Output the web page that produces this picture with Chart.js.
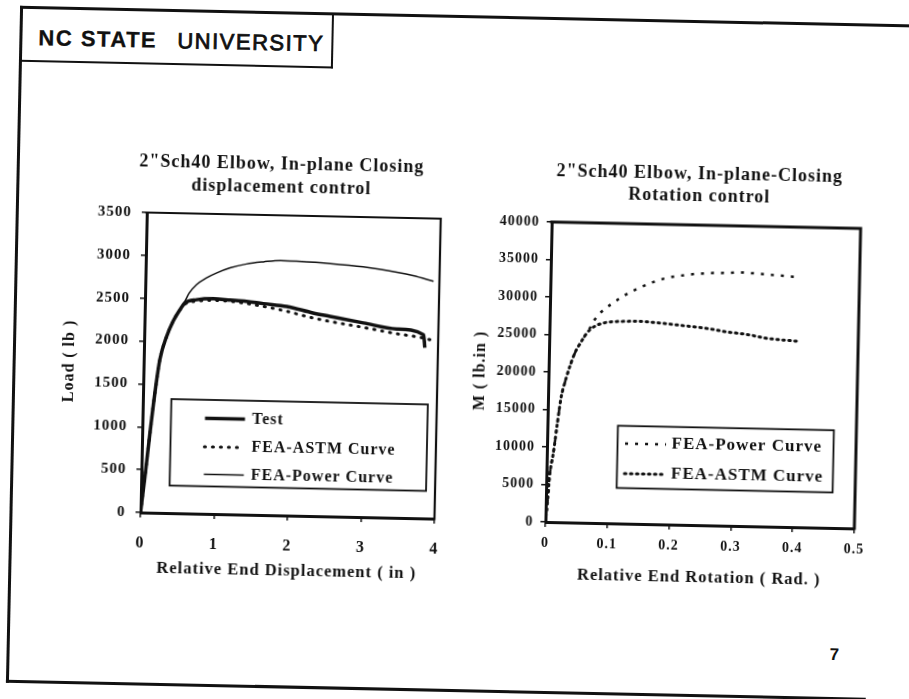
<!DOCTYPE html>
<html>
<head>
<meta charset="utf-8">
<script src="https://cdn.jsdelivr.net/npm/chart.js@4.4.1/dist/chart.umd.min.js"></script>
<style>
  html, body { margin: 0; padding: 0; background: #fff; overflow: hidden; width: 909px; height: 699px; }
  #slide { position: absolute; left: 0; top: 0; width: 909px; height: 699px;
           transform: rotate(1.2deg); transform-origin: 454.5px 349.5px; }
  .rule { position: absolute; background: #111; }
  #header { position: absolute; left: 14px; top: 16px; width: 293px; height: 53px; padding-left: 18px;
            border-right: 2px solid #111; border-bottom: 2px solid #111;
            font-family: "Liberation Sans", Arial, sans-serif; font-size: 22px; line-height: 61px;
            letter-spacing: 1.5px; color: #111; white-space: pre; }
  #header b { font-weight: 700; -webkit-text-stroke: 0.3px #111; }
  #header span { font-weight: 400; margin-left: 5px; -webkit-text-stroke: 0.8px #111; }
  #page { position: absolute; left: 836px; top: 637px; font: bold 17px "Liberation Sans", Arial, sans-serif; color: #111; }
  canvas { position: absolute; }
</style>
</head>
<body>
<div id="slide">
  <div class="rule" style="left:12.5px; top:14.5px; width:3px; height:677px;"></div>
  <div class="rule" style="left:12.5px; top:14.5px; width:920px; height:3.5px;"></div>
  <div class="rule" style="left:12.5px; top:688.5px; width:860px; height:3.5px;"></div>
  <div id="header"><b>NC STATE</b>  <span>UNIVERSITY</span></div>
  <canvas id="dispChart" width="516" height="460" style="left:20px; top:140px;"></canvas>
  <canvas id="rotChart" width="480" height="460" style="left:456px; top:140px;"></canvas>
  <div id="page">7</div>
</div>
<script>
// left chart: load vs relative end displacement
const testDisp  = [0, 0.05, 0.106, 0.162, 0.22, 0.305, 0.39, 0.479, 0.544, 0.703, 0.93, 1.16, 1.38, 1.61, 1.93, 2.29, 2.52, 2.98, 3.43, 3.80, 3.82];
const testLoad  = [0, 420, 930, 1400, 1790, 2060, 2240, 2375, 2455, 2495, 2510, 2500, 2489, 2466, 2439, 2369, 2334, 2265, 2203, 2142, 1990];
const astmDisp  = [0, 0.05, 0.106, 0.162, 0.22, 0.305, 0.39, 0.479, 0.544, 0.703, 0.93, 1.16, 1.61, 1.93, 2.29, 2.52, 2.98, 3.43, 3.80, 3.97];
const astmLoad  = [0, 420, 930, 1400, 1790, 2060, 2240, 2370, 2440, 2478, 2492, 2485, 2434, 2382, 2310, 2275, 2213, 2148, 2103, 2067];
const powerDisp = [0, 0.05, 0.106, 0.162, 0.22, 0.305, 0.39, 0.479, 0.544, 0.6, 0.698, 0.83, 0.97, 1.15, 1.37, 1.6, 1.83, 2.05, 2.51, 2.96, 3.42, 3.64, 3.92];
const powerLoad = [0, 420, 930, 1400, 1790, 2060, 2240, 2380, 2475, 2570, 2672, 2752, 2813, 2875, 2924, 2953, 2973, 2968, 2950, 2919, 2864, 2829, 2767];

// right chart: moment vs relative end rotation
const powerRot = [0, 0.003, 0.005, 0.011, 0.016, 0.0215, 0.027, 0.035, 0.043, 0.051, 0.059, 0.065, 0.072, 0.084, 0.105, 0.12, 0.14, 0.164, 0.185, 0.218, 0.251, 0.284, 0.306, 0.333, 0.36, 0.4];
const powerM   = [0, 3000, 5900, 9500, 13200, 16800, 18700, 21000, 22800, 24000, 25100, 25900, 27000, 28200, 29550, 30400, 31300, 32200, 32800, 33300, 33600, 33700, 33800, 33700, 33550, 33350];
const astmRot  = [0, 0.003, 0.005, 0.011, 0.016, 0.0215, 0.027, 0.035, 0.043, 0.051, 0.059, 0.065, 0.075, 0.091, 0.118, 0.143, 0.176, 0.21, 0.254, 0.286, 0.32, 0.352, 0.4];
const astmM    = [0, 3000, 5900, 9500, 13200, 16800, 18700, 21000, 22800, 24000, 25100, 25700, 26300, 26750, 26950, 27000, 26850, 26600, 26250, 25850, 25550, 25100, 24800];

const dispTicks   = ['0', '1', '2', '3', '4'];
const loadTicks   = ['0', '500', '1000', '1500', '2000', '2500', '3000', '3500'];
const rotTicks    = ['0', '0.1', '0.2', '0.3', '0.4', '0.5'];
const momentTicks = ['0', '5000', '10000', '15000', '20000', '25000', '30000', '35000', '40000'];

const serif = '"Liberation Serif", "Times New Roman", serif';
const ink = '#111';
const toPoints = (xs, ys) => xs.map((x, i) => ({ x, y: ys[i] }));

// frame on top/right of the plot, boxed legend inside it, wider lettering like the scan
const slideLook = {
  id: 'slideLook',
  beforeLayout(chart, args, opts) { chart.ctx.letterSpacing = opts.spacing; },
  beforeDraw(chart, args, opts) { chart.ctx.letterSpacing = opts.spacing; },
  afterDatasetsDraw(chart, args, opts) {
    const { ctx, chartArea: a } = chart;
    ctx.save();
    ctx.strokeStyle = ink;
    ctx.lineWidth = opts.frameWidth;
    ctx.beginPath();
    ctx.moveTo(a.left - 1.5, a.top);
    ctx.lineTo(a.right, a.top);
    ctx.lineTo(a.right, a.bottom + 1.5);
    ctx.stroke();

    const b = opts.box;
    const bx = a.left + b.left, by = a.bottom - b.up;
    ctx.lineWidth = 1.8;
    ctx.strokeRect(bx, by, b.width, b.height);

    ctx.font = 'bold ' + b.fontSize + 'px ' + serif;
    ctx.fillStyle = ink;
    ctx.textBaseline = 'middle';
    ctx.textAlign = 'left';
    chart.data.datasets.forEach((ds, i) => {
      const y = by + b.rows[i];
      ctx.save();
      ctx.lineWidth = ds.borderWidth;
      ctx.lineCap = ds.borderCapStyle || 'butt';
      ctx.setLineDash(ds.borderDash || []);
      ctx.beginPath();
      ctx.moveTo(bx + b.sample[0], y);
      ctx.lineTo(bx + b.sample[1], y);
      ctx.stroke();
      ctx.restore();
      ctx.fillText(ds.label, bx + b.textX, y);
    });
    ctx.restore();
  }
};

function axis(opts) {
  return {
    type: 'linear',
    min: opts.min,
    max: opts.max,
    afterFit: opts.fit,
    ticks: {
      stepSize: opts.step,
      padding: opts.pad,
      color: ink,
      font: { family: serif, size: opts.tickSize, weight: 'bold' },
      callback: (v, i) => opts.labels[i]
    },
    grid: { drawOnChartArea: false, tickLength: 5, color: ink, lineWidth: 1.5 },
    border: { color: ink, width: opts.border },
    title: {
      display: true,
      text: opts.title,
      color: ink,
      font: { family: serif, size: opts.titleSize, weight: 'bold', lineHeight: 1.2 },
      padding: opts.titlePad
    }
  };
}

// empty right-hand axis that only reserves room, so the chart title centres on the whole canvas
function spacer(width) {
  return {
    type: 'linear',
    position: 'right',
    afterFit: s => { s.width = width; },
    ticks: { display: false },
    grid: { display: false },
    border: { display: false }
  };
}

new Chart(document.getElementById('dispChart'), {
  type: 'line',
  data: {
    datasets: [
      { label: 'Test', data: toPoints(testDisp, testLoad), borderColor: ink, borderWidth: 3.5, pointRadius: 0, cubicInterpolationMode: 'monotone' },
      { label: 'FEA-ASTM Curve', data: toPoints(astmDisp, astmLoad), borderColor: ink, borderWidth: 3, borderDash: [1, 7], borderCapStyle: 'round', pointRadius: 0, cubicInterpolationMode: 'monotone' },
      { label: 'FEA-Power Curve', data: toPoints(powerDisp, powerLoad), borderColor: ink, borderWidth: 1.5, pointRadius: 0, cubicInterpolationMode: 'monotone' }
    ]
  },
  options: {
    responsive: false,
    animation: false,
    devicePixelRatio: 1,
    layout: { padding: 0 },
    scales: {
      x: axis({ min: 0, max: 4, step: 1, pad: 16, tickSize: 16, labels: dispTicks, border: 3,
                fit: s => { s.height = 81; },
                title: 'Relative End Displacement ( in )', titleSize: 16.5, titlePad: { top: 0, bottom: 15 } }),
      y: axis({ min: 0, max: 3500, step: 500, pad: 10, tickSize: 15, labels: loadTicks, border: 3,
                fit: s => { s.width = 124; },
                title: 'Load ( lb )', titleSize: 16, titlePad: { top: 40.7, bottom: 0 } }),
      gap: spacer(98)
    },
    plugins: {
      legend: { display: false },
      tooltip: { enabled: false },
      title: {
        display: true,
        text: ['2"Sch40 Elbow, In-plane Closing', 'displacement control'],
        color: ink,
        font: { family: serif, size: 18, weight: 'bold', lineHeight: 1.25 },
        padding: { top: 17.4, bottom: 16.6 }
      },
      slideLook: {
        spacing: '1px',
        frameWidth: 2.2,
        box: { left: 28.5, up: 114, width: 256.5, height: 86.5, rows: [18.5, 47, 74.5], sample: [34, 74], textX: 81, fontSize: 16 }
      }
    }
  },
  plugins: [slideLook]
});

new Chart(document.getElementById('rotChart'), {
  type: 'line',
  data: {
    datasets: [
      { label: 'FEA-Power Curve', data: toPoints(powerRot, powerM), borderColor: ink, borderWidth: 2.5, borderDash: [3, 7], pointRadius: 0, cubicInterpolationMode: 'monotone' },
      { label: 'FEA-ASTM Curve', data: toPoints(astmRot, astmM), borderColor: ink, borderWidth: 3, borderDash: [1.5, 4.5], borderCapStyle: 'round', pointRadius: 0, cubicInterpolationMode: 'monotone' }
    ]
  },
  options: {
    responsive: false,
    animation: false,
    devicePixelRatio: 1,
    layout: { padding: 0 },
    scales: {
      x: axis({ min: 0, max: 0.5, step: 0.1, pad: 7.5, tickSize: 14, labels: rotTicks, border: 3,
                fit: s => { s.height = 80; },
                title: 'Relative End Rotation ( Rad. )', titleSize: 16.5, titlePad: { top: 0, bottom: 17.6 } }),
      y: axis({ min: 0, max: 40000, step: 5000, pad: 7, tickSize: 14, labels: momentTicks, border: 3,
                fit: s => { s.width = 93; },
                title: 'M ( lb.in )', titleSize: 16, titlePad: { top: 14.8, bottom: 0 } }),
      gap: spacer(78)
    },
    plugins: {
      legend: { display: false },
      tooltip: { enabled: false },
      title: {
        display: true,
        text: ['2"Sch40 Elbow, In-plane-Closing', 'Rotation control'],
        color: ink,
        font: { family: serif, size: 18, weight: 'bold', lineHeight: 1.25 },
        padding: { top: 17.6, bottom: 17.4 }
      },
      slideLook: {
        spacing: '1px',
        frameWidth: 3,
        box: { left: 70.5, up: 97.7, width: 216, height: 62.2, rows: [17.6, 47.6], sample: [7.5, 48.5], textX: 54, fontSize: 17 }
      }
    }
  },
  plugins: [slideLook]
});
</script>
</body>
</html>
